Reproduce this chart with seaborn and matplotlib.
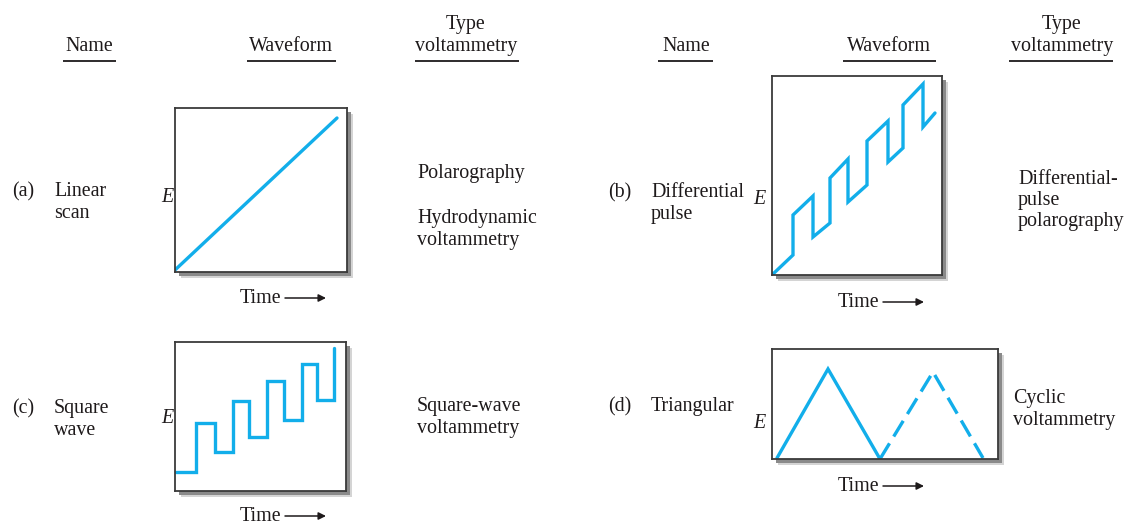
import matplotlib
matplotlib.use("Agg")
import matplotlib.pyplot as plt
from matplotlib.patches import Rectangle
import seaborn as sns

# ---- waveform data (time, potential) in each panel's own units ----
linear_t = [0, 162]
linear_E = [2, 154]

dpulse_t = [1, 21, 21, 41, 41, 58, 58, 76, 76, 95, 95, 116, 116, 131, 131, 151, 151, 163]
dpulse_E = [1, 20, 60, 79, 38, 52, 97, 116, 73, 90, 134, 154, 113, 127, 170, 191, 148, 162]

square_t = [1, 21, 21, 40, 40, 58, 58, 74, 74, 92, 92, 109, 109, 127, 127, 142, 142, 159, 159]
square_E = [19, 19, 68, 68, 39, 39, 90, 90, 54, 54, 110, 110, 71, 71, 127, 127, 91, 91, 143]

tri_solid_t = [5, 56, 108]
tri_solid_E = [1, 90, 0]
tri_dash_t = [108, 161, 211]
tri_dash_E = [0, 87, 1]

# ---- text content ----
names = {"a": ["Linear", "scan"], "b": ["Differential", "pulse"],
         "c": ["Square", "wave"], "d": ["Triangular"]}
types = {"a": [["Polarography"], ["Hydrodynamic", "voltammetry"]],
         "b": [["Differential-", "pulse", "polarography"]],
         "c": [["Square-wave", "voltammetry"]],
         "d": [["Cyclic", "voltammetry"]]}

sns.set_theme(style="white")
plt.rcParams["font.family"] = ["Liberation Serif", "DejaVu Serif"]

W, H = 1125, 525
LINE = "#12aeea"
INK = "#1e1a1b"
FS = 14.4

fig = plt.figure(figsize=(W / 100, H / 100), dpi=100)
fig.patch.set_facecolor("white")

# full-figure overlay in pixel coordinates for labels, rules and shadows
ov = fig.add_axes([0, 0, 1, 1])
ov.set_xlim(0, W)
ov.set_ylim(H, 0)
ov.axis("off")


def txt(x, y, s, ha="left", style="normal"):
    ov.text(x, y, s, ha=ha, va="baseline", fontsize=FS, color=INK, fontstyle=style)


def header(xn, xw, xt, rules):
    txt(xn, 51, "Name", ha="center")
    txt(xw, 51, "Waveform", ha="center")
    txt(xt, 29, "Type", ha="center")
    txt(xt, 51, "voltammetry", ha="center")
    for x0, x1 in rules:
        ov.plot([x0, x1], [61, 61], color=INK, lw=1.3, solid_capstyle="butt")


header(89, 291, 466, [(63, 116), (247, 336), (415, 519)])
header(686, 889, 1062, [(658, 713), (843, 936), (1009, 1113)])


def time_label(x, y):
    txt(x, y, "Time")
    ov.annotate("", xy=(x + 86, y - 5), xytext=(x + 45, y - 5),
                arrowprops=dict(arrowstyle="-|>", lw=1.1, color=INK,
                                mutation_scale=11, shrinkA=0, shrinkB=0))


def panel(l, t, r, b):
    # soft drop shadow behind the frame
    ov.add_patch(Rectangle((l + 6, t + 6), r - l, b - t, facecolor="#d4d4d4",
                           edgecolor="none", zorder=1))
    ov.add_patch(Rectangle((l + 4, t + 4), r - l, b - t, facecolor="#8a8a8a",
                           edgecolor="none", zorder=2))
    ax = fig.add_axes([l / W, 1 - b / H, (r - l) / W, (b - t) / H])
    ax.set_xlim(0, r - l)
    ax.set_ylim(0, b - t)
    ax.set_xticks([])
    ax.set_yticks([])
    ax.set_facecolor("white")
    for sp in ax.spines.values():
        sp.set_visible(True)
        sp.set_color("#3a3a3a")
        sp.set_linewidth(1.3)
    return ax


def draw(ax, tt, ee, dashed=False):
    sns.lineplot(x=tt, y=ee, ax=ax, color=LINE, lw=2.4, sort=False,
                 estimator=None, legend=False)
    line = ax.lines[-1]
    line.set_solid_joinstyle("miter")
    if dashed:
        line.set_dashes([5.5, 2.4])


# (a) linear scan
ax_a = panel(175, 108, 347, 272)
draw(ax_a, linear_t, linear_E)
txt(12, 196, "(a)")
txt(54, 196, names["a"][0])
txt(54, 218, names["a"][1])
txt(161, 202, "E", style="italic")
time_label(240, 303)
txt(417, 178, types["a"][0][0])
txt(417, 223, types["a"][1][0])
txt(417, 245, types["a"][1][1])

# (b) differential pulse
ax_b = panel(772, 76, 942, 275)
draw(ax_b, dpulse_t, dpulse_E)
txt(608, 197, "(b)")
txt(651, 197, names["b"][0])
txt(651, 219, names["b"][1])
txt(753, 204, "E", style="italic")
time_label(838, 307)
for i, s in enumerate(types["b"][0]):
    txt(1018, 184 + 21 * i, s)

# (c) square wave
ax_c = panel(175, 342, 346, 491)
draw(ax_c, square_t, square_E)
txt(12, 413, "(c)")
txt(54, 413, names["c"][0])
txt(54, 435, names["c"][1])
txt(161, 423, "E", style="italic")
time_label(240, 521)
txt(417, 411, types["c"][0][0])
txt(417, 433, types["c"][0][1])

# (d) triangular
ax_d = panel(772, 349, 998, 459)
draw(ax_d, tri_solid_t, tri_solid_E)
draw(ax_d, tri_dash_t, tri_dash_E, dashed=True)
txt(608, 411, "(d)")
txt(651, 411, names["d"][0])
txt(753, 428, "E", style="italic")
time_label(838, 491)
txt(1013, 403, types["d"][0][0])
txt(1013, 425, types["d"][0][1])

fig.savefig("out.png", dpi=100, facecolor="white")
